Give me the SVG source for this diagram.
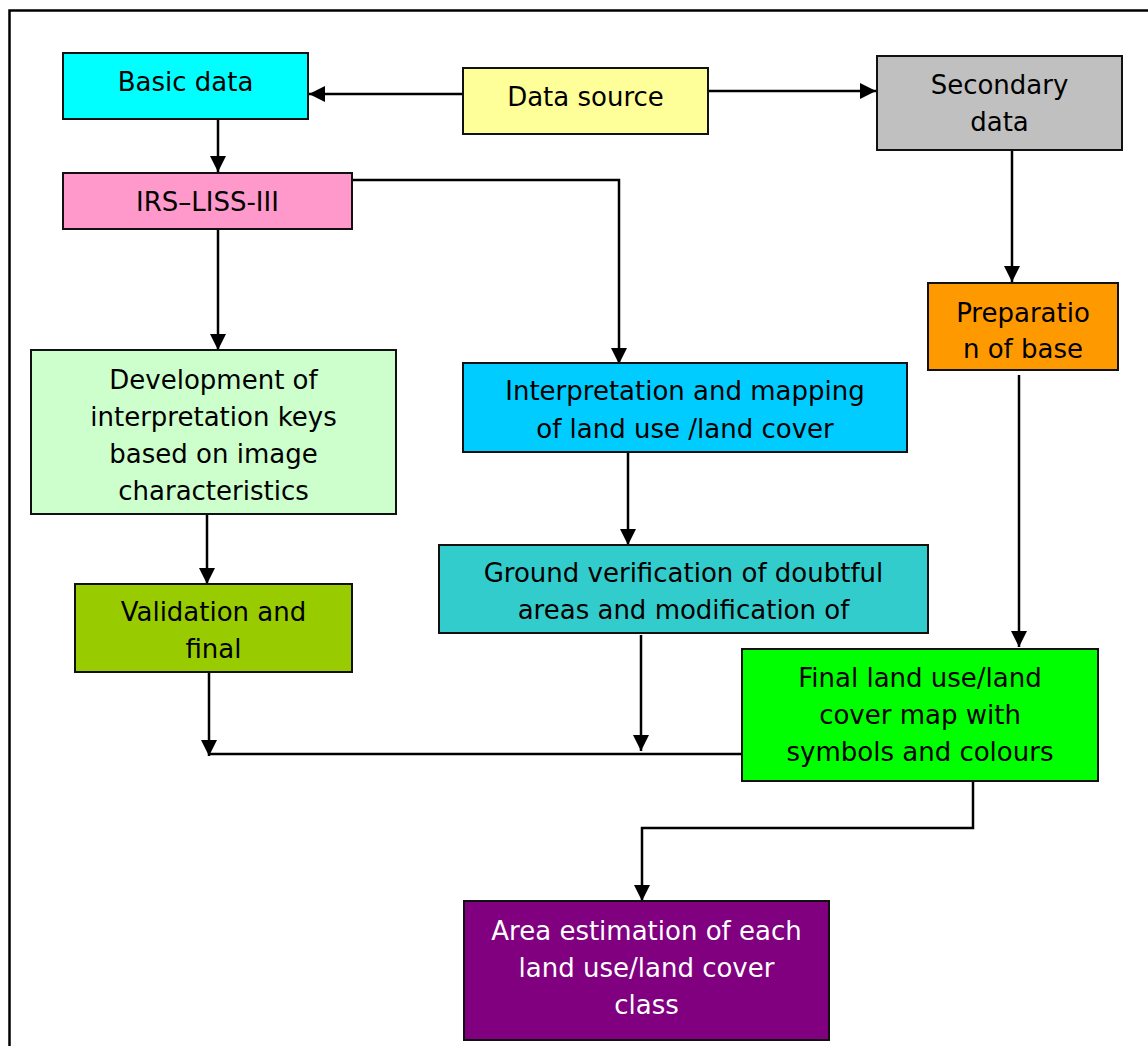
<svg xmlns="http://www.w3.org/2000/svg" width="1148" height="1046" viewBox="0 0 1148 1046">
<style>
  .box { stroke: #111; stroke-width: 2; }
  .t { font-family: "DejaVu Sans", Verdana, sans-serif; font-size: 26px; fill: #000; text-anchor: middle; }
  .tw { fill: #fff; }
  .c { fill: none; stroke: #000; stroke-width: 2.5; }
  .a { marker-end: url(#arr); }
</style>
<defs>
  <marker id="arr" viewBox="0 0 16 16" refX="16" refY="8" markerWidth="16" markerHeight="16" markerUnits="userSpaceOnUse" orient="auto">
    <path d="M0,0 L16,8 L0,16 Z" fill="#000"/>
  </marker>
</defs>
<rect x="0" y="0" width="1148" height="1046" fill="#fff"/>
<rect x="9.5" y="10.5" width="1200" height="1100" fill="none" stroke="#000" stroke-width="2.5"/>

<g id="connectors">
  <path class="c a" d="M463,94 H309"/>
  <path class="c a" d="M708,91 H876"/>
  <path class="c a" d="M218,119 V172"/>
  <path class="c a" d="M352,180 H619 V364"/>
  <path class="c a" d="M218,229 V350"/>
  <path class="c a" d="M1012,150 V282"/>
  <path class="c a" d="M1019,375 V647"/>
  <path class="c a" d="M628,452 V545"/>
  <path class="c a" d="M207,514 V584"/>
  <path class="c a" d="M209,672 V756"/>
  <path class="c a" d="M641,635 V751"/>
  <path class="c" d="M209,754 H742"/>
  <path class="c a" d="M973,781 V828 H642 V901"/>
</g>

<g id="basic-data">
  <rect class="box" x="63" y="53" width="245" height="66" fill="#00FFFF"/>
  <text class="t" x="185.5" y="91">Basic data</text>
</g>
<g id="data-source">
  <rect class="box" x="463" y="68" width="245" height="66" fill="#FFFF99"/>
  <text class="t" x="585.5" y="106">Data source</text>
</g>
<g id="secondary-data">
  <rect class="box" x="877" y="56" width="245" height="94" fill="#C0C0C0"/>
  <text class="t" x="999.5" y="94">Secondary</text>
  <text class="t" x="999.5" y="131">data</text>
</g>
<g id="irs-liss">
  <rect class="box" x="63" y="173" width="289" height="56" fill="#FF99CC"/>
  <text class="t" x="207.5" y="211">IRS–LISS-III</text>
</g>
<g id="preparation-base">
  <rect class="box" x="928" y="283" width="190" height="87" fill="#FF9900"/>
  <text class="t" x="1023" y="322">Preparatio</text>
  <text class="t" x="1023" y="358">n of base</text>
</g>
<g id="development-keys">
  <rect class="box" x="31" y="350" width="365" height="164" fill="#CCFFCC"/>
  <text class="t" x="213.5" y="389">Development of</text>
  <text class="t" x="213.5" y="426">interpretation keys</text>
  <text class="t" x="213.5" y="463">based on image</text>
  <text class="t" x="213.5" y="500">characteristics</text>
</g>
<g id="interpretation-mapping">
  <rect class="box" x="463" y="363" width="444" height="89" fill="#00CCFF"/>
  <text class="t" x="685" y="400">Interpretation and mapping</text>
  <text class="t" x="685" y="438">of land use /land cover</text>
</g>
<g id="ground-verification">
  <rect class="box" x="439" y="545" width="489" height="88" fill="#33CCCC"/>
  <text class="t" x="683.5" y="582">Ground verification of doubtful</text>
  <text class="t" x="683.5" y="619">areas and modification of</text>
</g>
<g id="validation-final">
  <rect class="box" x="75" y="584" width="277" height="88" fill="#99CC00"/>
  <text class="t" x="213.5" y="621">Validation and</text>
  <text class="t" x="213.5" y="658">final</text>
</g>
<g id="final-map">
  <rect class="box" x="742" y="649" width="356" height="132" fill="#00FF00"/>
  <text class="t" x="920" y="687">Final land use/land</text>
  <text class="t" x="920" y="724">cover map with</text>
  <text class="t" x="920" y="761">symbols and colours</text>
</g>
<g id="area-estimation">
  <rect class="box" x="464" y="901" width="365" height="139" fill="#800080"/>
  <text class="t tw" x="646.5" y="940">Area estimation of each</text>
  <text class="t tw" x="646.5" y="977">land use/land cover</text>
  <text class="t tw" x="646.5" y="1014">class</text>
</g>
</svg>
